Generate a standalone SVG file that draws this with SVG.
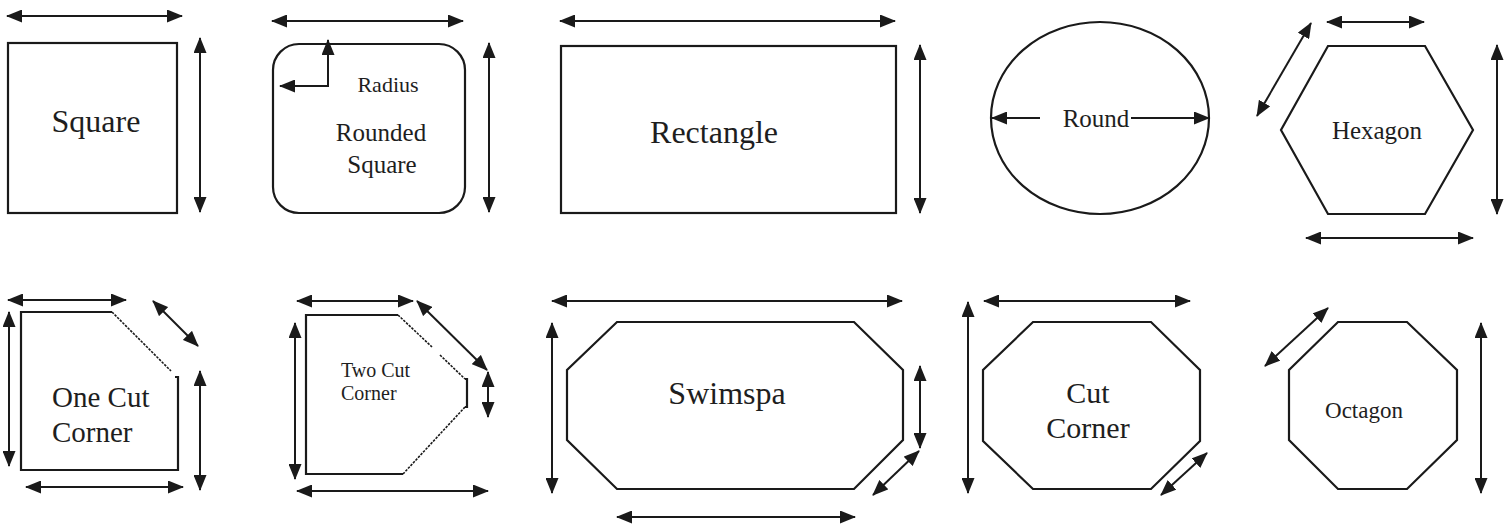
<svg xmlns="http://www.w3.org/2000/svg" width="1507" height="527" viewBox="0 0 1507 527">
<defs>
<style>
.shape{fill:none;stroke:#1a1a1a;stroke-width:2.2;stroke-linejoin:miter}
.thin{fill:none;stroke:#1a1a1a;stroke-width:1.6;stroke-dasharray:2.5 1.2}
.dim{fill:none;stroke:#1a1a1a;stroke-width:2;marker-start:url(#ah);marker-end:url(#ah)}
.one{fill:none;stroke:#1a1a1a;stroke-width:2;marker-end:url(#ah)}
.c{text-anchor:middle}
</style>
<marker id="ah" viewBox="0 0 16 13" refX="15" refY="6.5" markerWidth="16" markerHeight="13" markerUnits="userSpaceOnUse" orient="auto-start-reverse">
<path d="M0,0 L16,6.5 L0,13 z" fill="#1a1a1a"/>
</marker>
</defs>
<rect width="1507" height="527" fill="#ffffff"/>

<g font-family="'Liberation Serif', 'Times New Roman', 'DejaVu Serif', serif" fill="#1e1e1e">
<g id="square">
<rect class="shape" x="8" y="43" width="169" height="170"/>
<text class="c" x="96" y="132" font-size="32">Square</text>
</g>

<g id="rounded-square">
<rect class="shape" x="273" y="44" width="192" height="169" rx="26" ry="26"/>
<text class="c" x="388" y="92" font-size="22">Radius</text>
<text class="c" x="381" y="141" font-size="25">Rounded</text>
<text class="c" x="382" y="173" font-size="25">Square</text>
</g>

<g id="rectangle">
<rect class="shape" x="561" y="46" width="335" height="167"/>
<text class="c" x="714" y="143" font-size="32">Rectangle</text>
</g>

<g id="round">
<ellipse class="shape" cx="1100" cy="118" rx="109" ry="96"/>
<text class="c" x="1096" y="127" font-size="25">Round</text>
</g>

<g id="hexagon">
<polygon class="shape" points="1328,46 1425,46 1473,130 1425,214 1328,214 1281,130"/>
<text class="c" x="1377" y="139" font-size="25">Hexagon</text>
</g>

<g id="one-cut-corner">
<path class="shape" d="M112,312 L21,312 L21,470 L178,470 L178,377 L175,377"/>
<path class="thin" d="M112,312 L171,371"/>
<text x="52" y="407" font-size="29">One Cut</text>
<text x="52" y="442" font-size="29">Corner</text>
</g>

<g id="two-cut-corner">
<path class="shape" d="M398,315 L306,315 L306,474 L403,474"/>
<path class="thin" d="M398,315 L432,347 M440,355 L465,379"/>
<path class="shape" d="M465,379 L467,379 L467,407 L465,407"/>
<path class="thin" d="M465,407 L403,474"/>
<text x="341" y="377" font-size="20">Two Cut</text>
<text x="341" y="400" font-size="20">Corner</text>
</g>

<g id="swimspa">
<polygon class="shape" points="617,322 854,322 903,370 903,440 854,489 617,489 567,440 567,370"/>
<text class="c" x="727" y="404" font-size="32">Swimspa</text>
</g>

<g id="cut-corner">
<polygon class="shape" points="1033,322 1151,322 1200,370 1200,441 1151,489 1033,489 983,441 983,370"/>
<text class="c" x="1088" y="403" font-size="30">Cut</text>
<text class="c" x="1088" y="438" font-size="30">Corner</text>
</g>

<g id="octagon">
<polygon class="shape" points="1338,322 1407,322 1457,370 1457,440 1407,489 1338,489 1289,440 1289,370"/>
<text class="c" x="1364" y="418" font-size="23">Octagon</text>
</g>
</g>

<g id="connectors">
<line class="dim" x1="7" y1="16" x2="182" y2="16"/>
<line class="dim" x1="200" y1="38" x2="200" y2="212"/>
<line class="dim" x1="272" y1="21" x2="463" y2="21"/>
<line class="dim" x1="489" y1="43" x2="489" y2="212"/>
<path class="dim" d="M328,40 L328,86 L280,86"/>
<line class="dim" x1="560" y1="21" x2="895" y2="21"/>
<line class="dim" x1="920" y1="45" x2="920" y2="213"/>
<line class="one" x1="1040" y1="118" x2="992" y2="118"/>
<line class="one" x1="1131" y1="118" x2="1209" y2="118"/>
<line class="dim" x1="1327" y1="22" x2="1424" y2="22"/>
<line class="dim" x1="1311" y1="23" x2="1257" y2="116"/>
<line class="dim" x1="1497" y1="45" x2="1497" y2="214"/>
<line class="dim" x1="1306" y1="238" x2="1473" y2="238"/>
<line class="dim" x1="8" y1="300" x2="126" y2="300"/>
<line class="dim" x1="9" y1="312" x2="9" y2="466"/>
<line class="dim" x1="153" y1="301" x2="198" y2="346"/>
<line class="dim" x1="200" y1="371" x2="200" y2="490"/>
<line class="dim" x1="26" y1="487" x2="183" y2="487"/>
<line class="dim" x1="297" y1="301" x2="413" y2="301"/>
<line class="dim" x1="417" y1="301" x2="487" y2="370"/>
<line class="dim" x1="488" y1="372" x2="488" y2="417"/>
<line class="dim" x1="295" y1="323" x2="295" y2="479"/>
<line class="dim" x1="297" y1="491" x2="488" y2="491"/>
<line class="dim" x1="552" y1="301" x2="902" y2="301"/>
<line class="dim" x1="552" y1="323" x2="552" y2="493"/>
<line class="dim" x1="920" y1="366" x2="920" y2="448"/>
<line class="dim" x1="919" y1="451" x2="873" y2="495"/>
<line class="dim" x1="617" y1="517" x2="855" y2="517"/>
<line class="dim" x1="984" y1="301" x2="1190" y2="301"/>
<line class="dim" x1="968" y1="302" x2="968" y2="493"/>
<line class="dim" x1="1207" y1="453" x2="1161" y2="495"/>
<line class="dim" x1="1328" y1="308" x2="1265" y2="366"/>
<line class="dim" x1="1481" y1="323" x2="1481" y2="493"/>
</g>
</svg>
